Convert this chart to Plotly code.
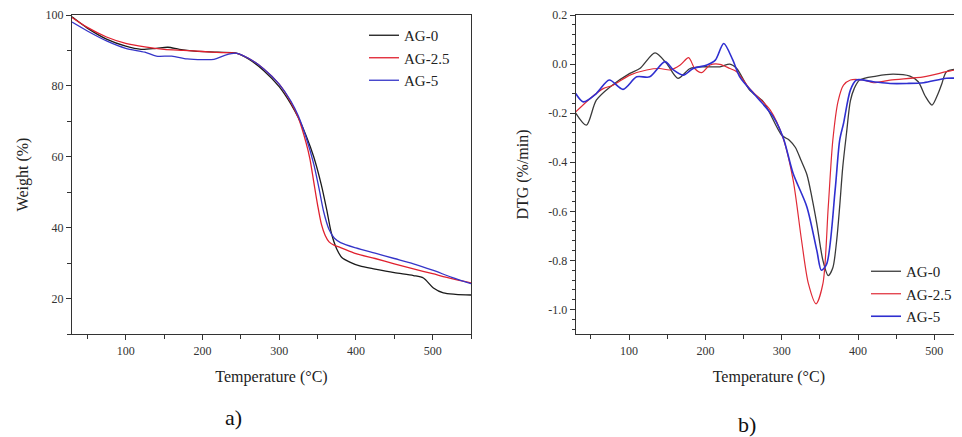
import plotly.graph_objects as go

# ---------------- Data ----------------
series_names = ["AG-0", "AG-2.5", "AG-5"]

# TGA (panel a)
tga_t_ag0 = [30, 50, 75, 100, 120, 140, 155, 170, 190, 220, 245, 260, 280, 300, 315, 325, 335, 345, 355, 362, 368, 375, 382, 392, 405, 425, 450, 475, 488, 501, 514, 530, 550]
tga_w_ag0 = [99.5, 96.3, 93.2, 91.2, 90.3, 90.6, 90.9, 90.3, 89.8, 89.5, 89.2, 87.6, 84.3, 79.8, 75.0, 71.0, 66.0, 60.0, 52.0, 45.0, 38.5, 34.0, 31.5, 30.3, 29.2, 28.3, 27.3, 26.5, 25.8, 23.0, 21.6, 21.2, 21.0]

tga_t_ag25 = [30, 50, 75, 100, 125, 150, 175, 200, 225, 245, 260, 280, 300, 315, 325, 335, 340, 345, 350, 355, 360, 365, 372, 380, 400, 425, 450, 475, 500, 525, 550]
tga_w_ag25 = [99.3, 96.5, 93.8, 92.0, 91.0, 90.3, 90.0, 89.7, 89.4, 89.2, 87.8, 84.8, 80.5, 75.5, 71.0, 64.0, 59.5, 53.0, 46.5, 41.0, 37.8, 36.0, 35.0, 34.4, 32.7, 31.3, 29.8, 28.4, 27.0, 25.6, 24.4]

tga_t_ag5 = [30, 50, 75, 100, 125, 140, 160, 180, 200, 215, 230, 245, 260, 280, 300, 315, 325, 335, 345, 352, 358, 365, 372, 380, 400, 425, 450, 475, 500, 525, 550]
tga_w_ag5 = [98.0, 95.5, 92.7, 90.6, 89.5, 88.4, 88.4, 87.6, 87.4, 87.5, 88.7, 89.2, 87.8, 84.8, 80.5, 75.8, 71.5, 65.5, 58.0, 51.0, 44.5, 39.5, 37.0, 35.8, 34.3, 32.8, 31.3, 29.8, 28.0, 26.0, 24.2]

# DTG (panel b)
dtg_t_ag0 = [30, 44, 57, 75, 101, 114, 134, 149, 164, 180, 197, 219, 232, 241, 258, 276, 300, 310, 318, 325, 333, 340, 346, 354, 361, 367, 372, 376, 380, 385, 390, 395, 402, 424, 446, 468, 479, 488, 497, 505, 510, 516, 536, 550]
dtg_d_ag0 = [-0.20, -0.249, -0.147, -0.093, -0.038, -0.018, 0.046, 0.003, -0.058, -0.018, -0.011, -0.011, 0.0, -0.018, -0.106, -0.154, -0.29, -0.31, -0.34, -0.39, -0.45, -0.55, -0.65, -0.80, -0.862, -0.83, -0.72, -0.58, -0.42, -0.28, -0.15, -0.10, -0.065, -0.049, -0.041, -0.049, -0.072, -0.13, -0.167, -0.12, -0.079, -0.031, -0.018, -0.015]

dtg_t_ag25 = [30, 49, 66, 79, 101, 123, 140, 154, 167, 178, 186, 195, 206, 219, 232, 241, 258, 285, 302, 315, 326, 335, 345, 354, 361, 367, 374, 381, 390, 407, 420, 442, 486, 516, 536, 550]
dtg_d_ag25 = [-0.195, -0.14, -0.10, -0.086, -0.045, -0.024, -0.018, -0.024, -0.004, 0.026, -0.018, -0.035, -0.004, -0.001, -0.018, -0.031, -0.10, -0.188, -0.303, -0.473, -0.718, -0.895, -0.977, -0.895, -0.582, -0.31, -0.15, -0.086, -0.065, -0.065, -0.076, -0.065, -0.052, -0.031, -0.018, -0.015]

dtg_t_ag5 = [30, 40, 57, 74, 92, 110, 127, 147, 158, 171, 184, 202, 213, 224, 236, 245, 267, 289, 302, 315, 333, 346, 352, 359, 370, 376, 381, 390, 398, 420, 442, 464, 486, 516, 536, 550]
dtg_d_ag5 = [-0.12, -0.154, -0.12, -0.065, -0.103, -0.052, -0.052, 0.01, -0.024, -0.045, -0.018, -0.004, 0.016, 0.084, 0.016, -0.052, -0.133, -0.215, -0.30, -0.446, -0.582, -0.759, -0.84, -0.814, -0.514, -0.31, -0.242, -0.106, -0.065, -0.072, -0.079, -0.079, -0.076, -0.058, -0.058, -0.058]

# tick labels
tga_y_ticks = [20, 40, 60, 80, 100]
tga_y_labels = ["20", "40", "60", "80", "100"]
temp_ticks = [100, 200, 300, 400, 500]
temp_labels = ["100", "200", "300", "400", "500"]
dtg_y_ticks = [-1.0, -0.8, -0.6, -0.4, -0.2, 0.0, 0.2]
dtg_y_labels = ["-1.0", "-0.8", "-0.6", "-0.4", "-0.2", "0.0", "0.2"]

# ---------------- Styles ----------------
SERIF = "Liberation Serif"
colors_a = ["#1a1a1a", "#e0202e", "#3535c8"]
colors_b = ["#3a3a3a", "#e02a36", "#2f2fd0"]
widths_b = [1.3, 1.2, 1.6]

fig = go.Figure()

tga = [(tga_t_ag0, tga_w_ag0), (tga_t_ag25, tga_w_ag25), (tga_t_ag5, tga_w_ag5)]
for i, (t, w) in enumerate(tga):
    fig.add_trace(go.Scatter(x=t, y=w, mode="lines", name=series_names[i],
                             line=dict(color=colors_a[i], width=1.3, shape="spline", smoothing=0.8),
                             xaxis="x", yaxis="y", legend="legend"))

dtg = [(dtg_t_ag0, dtg_d_ag0), (dtg_t_ag25, dtg_d_ag25), (dtg_t_ag5, dtg_d_ag5)]
for i, (t, d) in enumerate(dtg):
    fig.add_trace(go.Scatter(x=t, y=d, mode="lines", name=series_names[i],
                             line=dict(color=colors_b[i], width=widths_b[i], shape="spline", smoothing=0.8),
                             xaxis="x2", yaxis="y2", legend="legend2"))

# the page has an 8px body margin; figure pixel = reference pixel - OFF
OFF = 8
W, H = 962 - OFF, 437 - OFF


def px(x):
    return (x - OFF) / W


def py(y):
    return 1 - (y - OFF) / H


ax_color = "#333333"
tickfont = dict(family=SERIF, size=12, color="#333333")
titlefont = dict(family=SERIF, size=16, color="#222222")

common_x = dict(showgrid=False, zeroline=False, showline=True, linecolor=ax_color, linewidth=1.3,
                automargin=False,
                ticks="outside", ticklen=5, tickwidth=1.2, tickcolor=ax_color,
                tickmode="array", tickvals=temp_ticks, ticktext=temp_labels,
                tickfont=tickfont,
                minor=dict(tickmode="linear", tick0=0, dtick=50, ticks="outside", ticklen=4,
                           tickwidth=1.1, tickcolor=ax_color),
                title=dict(text="Temperature (°C)", font=titlefont, standoff=14))

ydom = [py(334), py(15)]

fig.update_layout(
    width=W, height=H,
    margin=dict(l=0, r=0, t=0, b=0, autoexpand=False),
    paper_bgcolor="white", plot_bgcolor="white",
    xaxis=dict(domain=[px(72), px(471)], range=[30, 550], anchor="y", mirror=True, **common_x),
    yaxis=dict(domain=ydom, range=[10, 100], anchor="x",
               automargin=False,
               showgrid=False, zeroline=False, showline=True, mirror=True,
               linecolor=ax_color, linewidth=1.3,
               ticks="outside", ticklen=5, tickwidth=1.2, tickcolor=ax_color,
               tickmode="array", tickvals=tga_y_ticks, ticktext=tga_y_labels, tickfont=tickfont,
               minor=dict(tickmode="linear", tick0=0, dtick=10, ticks="outside", ticklen=4,
                          tickwidth=1.1, tickcolor=ax_color),
               title=dict(text="Weight (%)", font=titlefont, standoff=12)),
    xaxis2=dict(domain=[px(575.7), 1.0], range=[30, 536.3], anchor="y2", mirror=True, **common_x),
    yaxis2=dict(domain=ydom, range=[-1.1, 0.2], anchor="x2",
                automargin=False,
                showgrid=False, zeroline=False, showline=True, mirror=False,
                linecolor=ax_color, linewidth=1.3,
                ticks="outside", ticklen=5, tickwidth=1.2, tickcolor=ax_color,
                tickmode="array", tickvals=dtg_y_ticks, ticktext=dtg_y_labels, tickfont=tickfont,
                minor=dict(tickmode="linear", tick0=0, dtick=0.04, ticks="outside", ticklen=3,
                           tickwidth=1.0, tickcolor=ax_color),
                title=dict(text="DTG (%/min)", font=titlefont, standoff=15)),
    legend=dict(x=px(364), y=py(19), xanchor="left", yanchor="top",
                bgcolor="rgba(0,0,0,0)", borderwidth=0,
                font=dict(family=SERIF, size=15, color="#222222"), tracegroupgap=0),
    legend2=dict(x=px(866), y=py(255), xanchor="left", yanchor="top",
                 bgcolor="rgba(0,0,0,0)", borderwidth=0,
                 font=dict(family=SERIF, size=15, color="#222222"), tracegroupgap=0),
    annotations=[
        dict(text="a)", x=px(233), y=py(417), xref="paper", yref="paper",
             xanchor="center", yanchor="middle",
             showarrow=False, font=dict(family=SERIF, size=22, color="#111111")),
        dict(text="b)", x=px(747), y=py(424), xref="paper", yref="paper",
             xanchor="center", yanchor="middle",
             showarrow=False, font=dict(family=SERIF, size=22, color="#111111")),
    ],
)

fig.write_html("out.html")
